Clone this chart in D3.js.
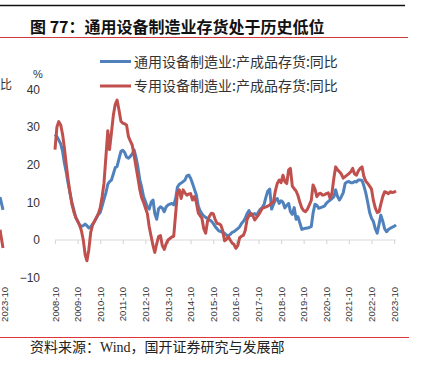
<!DOCTYPE html>
<html><head><meta charset="utf-8">
<script src="https://cdn.jsdelivr.net/npm/d3@7/dist/d3.min.js"></script>
<style>
html,body{margin:0;padding:0;background:#fff;}
svg{display:block;}
</style></head><body>
<svg id="c" width="424" height="365"></svg>
<script>
// ---------- data ----------
const titleText = "图 77：通用设备制造业存货处于历史低位";
const sourceText = "资料来源：Wind，国开证券研究与发展部";
const seriesNames = ["通用设备制造业:产成品存货:同比", "专用设备制造业:产成品存货:同比"];
const firstMonth = "2008-10";
const lastMonth = "2023-11";
const xTickLabels = ["2008-10","2009-10","2010-10","2011-10","2012-10","2013-10","2014-10","2015-10",
  "2016-10","2017-10","2018-10","2019-10","2020-10","2021-10","2022-10","2023-10"];
const yTicks = [-10, 0, 10, 20, 30, 40];
const yUnit = "%";

// 通用设备制造业:产成品存货:同比 (monthly, from 2008-10)
const generalEquip = [
  28, 27.4, 26.5, 25.5, 23.5, 20.5, 18, 15, 12.4, 10,
  8, 6, 5, 4, 3.6, 3.8, 4.2, 3.8, 3.2, 3.5,
  4.2, 4.9, 5.8, 6.8, 7.3, 9, 10.8, 12.5, 14.8, 15.5,
  15.9, 17.5, 19.2, 19.5, 21.5, 23.5, 23.8, 23.2, 22, 21.7,
  22.2, 22.8, 23.9, 22, 19.4, 16, 14, 11.5, 10.2, 8.8,
  8.2, 10, 10.6, 7, 5.5, 8.3, 8.8, 8.5, 7.5, 8.8,
  9.3, 9.5, 9.7, 9.3, 11, 14, 14.8, 15.1, 15.5, 15.9,
  17, 17.2, 16.4, 15, 13.5, 12, 9, 7.8, 7, 6.4,
  6, 5.7, 5.3, 5, 4.4, 3.6, 3, 2.4, 2.2, 2,
  1.8, 1.3, 1.1, 1.5, 2, 2.2, 2.6, 3, 3.5, 4.4,
  5, 5.8, 7, 7.8, 6.5, 6.8, 7, 6.6, 7.4, 8.2,
  8.6, 9.5, 11.5, 13, 13.5, 8.2, 9.5, 10.6, 11, 9.7,
  10.4, 10, 8.5, 9.2, 9.7, 7.5, 6.8, 8.6, 5.5, 6.2,
  4.5, 2.8, 3, 3.1, 3.2, 3.3, 3.6, 7.1, 9.5, 9.2,
  8.4, 8.6, 8.8, 9, 9.7, 10.2, 10.6, 11, 11.5, 13.3,
  11.5, 10.6, 11.5, 12.5, 15, 15.4, 15.5, 15.2, 15.2, 15.5,
  15.4, 15.9, 15.9, 15.8, 14.3, 12.5, 10, 7.3, 5.8, 4.9,
  3, 1.8, 4.2, 6.6, 5, 3, 2.2, 2.8, 3.1, 3.4,
  3.6, 4
];
// 专用设备制造业:产成品存货:同比 (monthly, from 2008-10)
const specialEquip = [
  24, 30, 31.4, 30.5, 28, 24.5, 20, 16, 12.5, 9.5,
  7.5, 6, 5, 4, 2.5, 0, -4, -5.5, -2.5, 2,
  4, 5, 6, 7, 8.5, 11.5, 15, 22, 29, 24,
  28.5, 33, 36, 37.1, 34.5, 31.5, 31, 30.8, 30.5, 27.4,
  26.2, 25.2, 22.5, 19.5, 16.5, 13.5, 11.2, 10, 8.5, 7,
  3.5, 1, -1.5, -3.3, -1, 0.9, 1.2, -1.5, -2.5, -1,
  0, 0.4, 0.8, 1, 7, 12.5, 13.3, 11, 13.3, 12.5,
  11.9, 12.2, 12.3, 10.6, 11.5, 10, 7.2, 6.5, 5.8, 3,
  1.8, 5, 6.3, 7.1, 7, 5.5, 4.4, 4.3, 4, 2.5,
  -0.2, 0.2, 0.9, 0, -0.8, -1.2, -2.2, -1.5, 0.6, 1,
  1.3, 2.5, 5.5, 6.5, 7.1, 6.5, 5.3, 6, 6.6, 7.5,
  8.4, 8.6, 8.8, 9, 9.3, 9.8, 10.2, 13, 15, 15.9,
  15.2, 17.2, 15.5, 15, 18.6, 19, 14.3, 13.6, 13, 11.8,
  10, 8.5, 7.8, 7.5, 8.2, 9.3, 10.5, 14.6, 13.5, 11.5,
  12.2, 12.4, 11.9, 12, 12.3, 12.5, 11.1, 12.5, 16.5, 19.4,
  18.6, 18.1, 17.5, 16.4, 16.8, 17.2, 17.6, 18.1, 19, 17.5,
  17.2, 18.3, 19, 19.4, 16.8, 15.6, 15, 14.3, 13.5, 10.5,
  8.5, 7.3, 7.5, 9.5, 11.5, 12.8, 12.6, 12.3, 12.8, 12.6,
  12.7, 13
];
// fragment of the neighbouring chart visible at the left edge
const neighbourLabel = "比";
const neighbourTick = "2023-10";
const neighbourBlueTail = [11.4, 8];
const neighbourRedTail = [2.7, -2.1];

// ---------- drawing ----------
const colors = ["#4f81bd", "#c0504d"];
const svg = d3.select("#c");
const parseM = d3.timeParse("%Y-%m");
const months = d3.timeMonth.range(parseM(firstMonth), d3.timeMonth.offset(parseM(lastMonth), 1));

const x = d3.scaleTime().domain([parseM(firstMonth), parseM(lastMonth)]).range([55, 396]);
const y = d3.scaleLinear().domain([-10, 40]).range([277.7, 89.2]);

// header rules
svg.append("line").attr("x1", 0).attr("x2", 405).attr("y1", 5.5).attr("y2", 5.5)
  .attr("stroke", "#111").attr("stroke-width", 1.5);
svg.append("text").attr("x", 30).attr("y", 32.5).text(titleText)
  .attr("font-family", "'Noto Sans CJK SC', sans-serif").attr("font-weight", "bold")
  .attr("font-size", 16).attr("fill", "#111");
svg.append("line").attr("x1", 0).attr("x2", 408).attr("y1", 37.5).attr("y2", 37.5)
  .attr("stroke", "#d0393c").attr("stroke-width", 1);

// footer
svg.append("line").attr("x1", 0).attr("x2", 409).attr("y1", 337.5).attr("y2", 337.5)
  .attr("stroke", "#e0343a").attr("stroke-width", 1);
svg.append("text").attr("x", 30).attr("y", 352).text(sourceText)
  .attr("font-family", "'Liberation Serif', 'Noto Sans CJK SC', serif")
  .attr("font-size", 14).attr("fill", "#222");

// y axis labels
const yAxis = d3.axisLeft(y).tickValues(yTicks).tickSize(0).tickPadding(0);
const gy = svg.append("g").attr("transform", "translate(40,0)").call(yAxis);
gy.select(".domain").remove();
gy.selectAll("text").attr("font-family", "'Liberation Sans', Arial, sans-serif")
  .attr("font-size", 12).attr("fill", "#333");
svg.append("text").attr("x", 33).attr("y", 78).text(yUnit)
  .attr("font-family", "'Liberation Sans', Arial, sans-serif").attr("font-size", 11).attr("fill", "#333");

// x axis at zero
const tickDates = xTickLabels.map(parseM);
const xAxis = d3.axisBottom(x).tickValues(tickDates).tickSize(4).tickFormat("");
const gx = svg.append("g").attr("transform", `translate(0,${y(0)})`).call(xAxis);
gx.select(".domain").attr("stroke", "#d9d9d9").attr("stroke-width", 1.2)
  .attr("d", `M${x.range()[0]},0H${x.range()[1]}`);
gx.selectAll(".tick line").attr("stroke", "#d9d9d9").attr("stroke-width", 1.2);

// x labels at the bottom (low position)
svg.append("g").selectAll("text").data(xTickLabels).join("text")
  .attr("transform", d => `translate(${x(parseM(d)) + 3.5},287) rotate(-90)`)
  .attr("text-anchor", "end")
  .attr("font-family", "'Liberation Sans', Arial, sans-serif").attr("font-size", 9.5)
  .attr("fill", "#333").text(d => d);

// series lines
const line = d3.line().x((d, i) => x(months[i])).y(d => y(d)).curve(d3.curveLinear);
[generalEquip, specialEquip].forEach((s, k) => {
  svg.append("path").datum(s).attr("d", line).attr("fill", "none")
    .attr("stroke", colors[k]).attr("stroke-width", 3)
    .attr("stroke-linejoin", "round").attr("stroke-linecap", "butt");
});

// legend
const legY = [61.5, 86];
seriesNames.forEach((nm, k) => {
  svg.append("line").attr("x1", 100).attr("x2", 131).attr("y1", legY[k]).attr("y2", legY[k])
    .attr("stroke", colors[k]).attr("stroke-width", 3);
  svg.append("text").attr("x", 134).attr("y", legY[k] + 5).text(nm)
    .attr("font-family", "'Noto Sans CJK SC', sans-serif").attr("font-size", 14)
    .attr("fill", "#333");
});

// neighbouring chart fragment at left edge
svg.append("text").attr("x", 0).attr("y", 89).text(neighbourLabel)
  .attr("font-family", "'Noto Sans CJK SC', sans-serif").attr("font-size", 12).attr("fill", "#333");
svg.append("text").attr("transform", "translate(8,287) rotate(-90)").attr("text-anchor", "end")
  .attr("font-family", "'Liberation Sans', Arial, sans-serif").attr("font-size", 9.5)
  .attr("fill", "#333").text(neighbourTick);
const xs = d3.scaleLinear().domain([0, 1]).range([0, 3]);
const nLine = d3.line().x((d, i) => xs(i)).y(d => y(d));
[neighbourBlueTail, neighbourRedTail].forEach((s, k) => {
  svg.append("path").datum(s).attr("d", nLine).attr("fill", "none")
    .attr("stroke", colors[k]).attr("stroke-width", 3);
});
</script>
</body></html>
